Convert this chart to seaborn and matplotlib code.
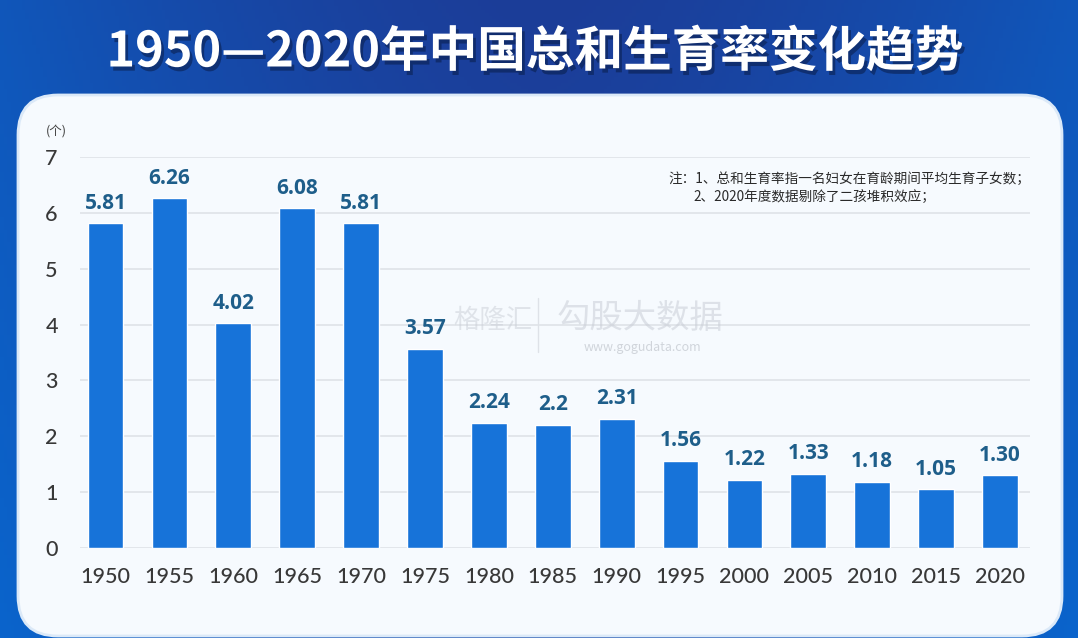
import numpy as np
import pandas as pd
import matplotlib
matplotlib.use("Agg")
import matplotlib.pyplot as plt
import matplotlib.patheffects as pe
from matplotlib.patches import FancyBboxPatch
import seaborn as sns

years = ["1950", "1955", "1960", "1965", "1970", "1975", "1980", "1985",
         "1990", "1995", "2000", "2005", "2010", "2015", "2020"]
tfr = [5.81, 6.26, 4.02, 6.08, 5.81, 3.57, 2.24, 2.2, 2.31, 1.56, 1.22, 1.33, 1.18, 1.05, 1.30]
value_labels = ["5.81", "6.26", "4.02", "6.08", "5.81", "3.57", "2.24", "2.2",
                "2.31", "1.56", "1.22", "1.33", "1.18", "1.05", "1.30"]
y_ticks = [0, 1, 2, 3, 4, 5, 6, 7]
title = "1950—2020年中国总和生育率变化趋势"
note1 = "注：1、总和生育率指一名妇女在育龄期间平均生育子女数；"
note2 = "2、2020年度数据剔除了二孩堆积效应；"
unit = "(个)"

sns.set_theme(style="white")
plt.rcParams['font.family'] = ['Noto Sans CJK SC', 'DejaVu Sans']

W, H = 1078, 638
fig = plt.figure(figsize=(W / 100, H / 100), dpi=100)

# background gradient
bg = fig.add_axes([0, 0, 1, 1])
bg.set_xlim(0, W)
bg.set_ylim(H, 0)
bg.axis("off")
yy, xx = np.mgrid[0:1:200j, 0:1:300j]
top = np.array([0x1c, 0x3d, 0x98]) / 255
side = np.array([0x0a, 0x64, 0xcc]) / 255
horiz = np.abs(xx - 0.5) * 2
t = np.clip(0.35 * yy + 0.65 * horiz ** 1.5, 0, 1)[..., None]
img = top * (1 - t) + side * t
bg.imshow(img, extent=[0, W, H, 0], aspect="auto", zorder=0)

panel = FancyBboxPatch((18, 95), 1044, 541, boxstyle="round,pad=0,rounding_size=40",
                       facecolor="#f6fafe", edgecolor="#dbe9f8", linewidth=2, zorder=1)
bg.add_patch(panel)

fig.text(535 / W, 1 - 52 / H, title, ha="center", va="center", color="white",
         fontsize=35, fontweight="bold",
         path_effects=[pe.withSimplePatchShadow(offset=(2, -3), shadow_rgbFace="#0a2050", alpha=0.6)])

# main axes
ax = fig.add_axes([80 / W, (H - 548) / H, 950 / W, 391 / H])
ax.set_facecolor("none")
df = pd.DataFrame({"year": years, "tfr": tfr})
sns.barplot(data=df, x="year", y="tfr", color="#1773d9", saturation=1, width=0.56, ax=ax, zorder=3)
ax.set_ylim(0, 7)
ax.set_xlim(-0.4, 14.47)
ax.set_yticks(y_ticks)
ax.yaxis.grid(True, color="#dfe3e8", linewidth=1.2, zorder=0)
ax.set_axisbelow(True)
for s in ax.spines.values():
    s.set_visible(False)
ax.set_xlabel("")
ax.set_ylabel("")
ax.tick_params(axis="both", length=0, labelsize=15.5, labelcolor="#383838")
ax.tick_params(axis="x", pad=14)
ax.tick_params(axis="y", pad=16)
for lab in ax.get_xticklabels() + ax.get_yticklabels():
    lab.set_family(["Lato", "DejaVu Sans"])
    lab.set_fontweight("medium")

for i, (v, s) in enumerate(zip(tfr, value_labels)):
    ax.annotate(s, (i, v), xytext=(0, 7), textcoords="offset points", ha="center", va="bottom",
                fontsize=15, fontweight="bold", color="#1e5e8a", family=["Open Sans", "DejaVu Sans"],
                zorder=5)

fig.text(56 / W, 1 - 131 / H, unit, ha="center", va="center", fontsize=9, color="#444444")

fig.text(668 / W, 1 - 179 / H, note1, ha="left", va="center", fontsize=9.8, color="#2a2a2a",
         fontweight="medium")
fig.text(693 / W, 1 - 197 / H, note2, ha="left", va="center", fontsize=9.8, color="#2a2a2a",
         fontweight="medium")

# watermark
fig.text(453 / W, 1 - 320 / H, "格隆汇", ha="left", va="center", fontsize=19, color="#c9ced6", alpha=0.5)
bg.plot([538, 538], [298, 352], color="#d5d9df", lw=1, alpha=0.7, zorder=2)
fig.text(640 / W, 1 - 318 / H, "勾股大数据", ha="center", va="center", fontsize=24, color="#c9ced6", alpha=0.55)
fig.text(642 / W, 1 - 347 / H, "www.gogudata.com", ha="center", va="center", fontsize=9, color="#c0c5cc", alpha=0.7)

fig.savefig("out.png", dpi=100)
